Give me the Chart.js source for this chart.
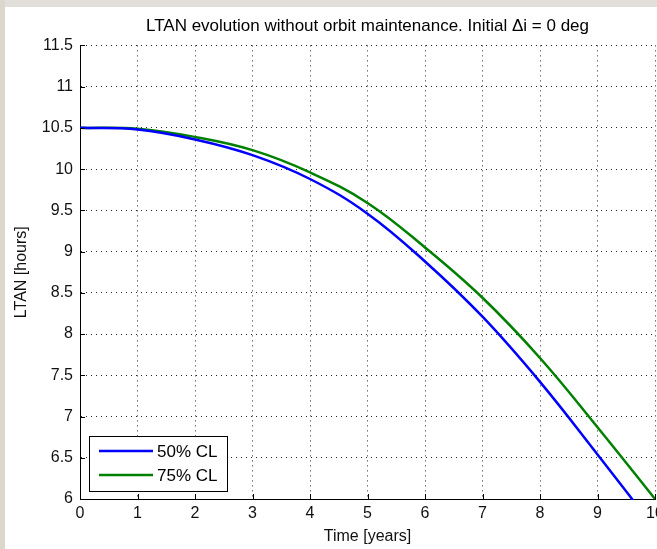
<!DOCTYPE html>
<html>
<head>
<meta charset="utf-8">
<script src="https://cdn.jsdelivr.net/npm/chart.js@4"></script>
<style>
  html, body { margin: 0; padding: 0; background: #fff; overflow: hidden; }
  #wrap { width: 657px; height: 549px; position: relative; }
</style>
</head>
<body>
<div id="wrap"><canvas id="ltanChart" width="657" height="549"></canvas></div>
<script>
// years since start
const years = [0, 1, 2, 3, 4, 5, 6, 7, 8, 9, 10];
// LTAN [hours]
const cl50 = [10.5, 10.48, 10.36, 10.17, 9.88, 9.46, 8.88, 8.21, 7.42, 6.54, 5.64];
const cl75 = [10.5, 10.49, 10.39, 10.23, 9.96, 9.59, 9.05, 8.44, 7.71, 6.87, 6.0];
const seriesNames = ['50% CL', '75% CL'];
const seriesColors = ['#0000ff', '#008000'];

const FONT = "'Liberation Sans', Arial, Helvetica, sans-serif";

function toPoints(xs, ys) {
  return xs.map((x, i) => ({ x: x, y: ys[i] }));
}

// grey window frame of the screenshot
const framePlugin = {
  id: 'frame',
  beforeDraw(chart) {
    const c = chart.ctx;
    c.save();
    c.fillStyle = '#e2dfda';
    c.fillRect(0, 0, chart.width, 7);
    c.fillStyle = '#dcd7cd';
    c.fillRect(0, 0, 5, chart.height);
    c.restore();
  }
};

// matlab style tick marks pointing into the axes
const innerTicks = {
  id: 'innerTicks',
  afterDatasetsDraw(chart) {
    const c = chart.ctx;
    const a = chart.chartArea;
    const xs = chart.scales.x, ys = chart.scales.y;
    c.save();
    c.strokeStyle = '#000';
    c.lineWidth = 1;
    c.beginPath();
    xs.ticks.forEach(t => {
      const px = Math.round(xs.getPixelForValue(t.value)) + 0.5;
      c.moveTo(px, a.bottom);
      c.lineTo(px, a.bottom - 5);
    });
    ys.ticks.forEach(t => {
      const py = Math.round(ys.getPixelForValue(t.value)) + 0.5;
      c.moveTo(a.left, py);
      c.lineTo(a.left + 5, py);
    });
    c.stroke();
    c.restore();
  }
};

// legend box in the lower left corner of the axes
const boxLegend = {
  id: 'boxLegend',
  afterDraw(chart) {
    const c = chart.ctx;
    const a = chart.chartArea;
    const w = 138, h = 55;
    const x0 = a.left + 9, y0 = a.bottom - 8 - h;
    c.save();
    c.fillStyle = '#fff';
    c.fillRect(x0, y0, w, h);
    c.strokeStyle = '#000';
    c.lineWidth = 1;
    c.strokeRect(Math.round(x0) + 0.5, Math.round(y0) + 0.5, w, h);
    c.font = '17px ' + FONT;
    c.textBaseline = 'middle';
    c.textAlign = 'left';
    seriesNames.forEach((name, i) => {
      const yy = y0 + 15 + i * 24;
      c.strokeStyle = seriesColors[i];
      c.lineWidth = 2.5;
      c.beginPath();
      c.moveTo(x0 + 10, yy);
      c.lineTo(x0 + 64, yy);
      c.stroke();
      c.fillStyle = '#000';
      c.fillText(name, x0 + 68, yy + 1);
    });
    c.restore();
  }
};

const ctx = document.getElementById('ltanChart').getContext('2d');

const ltanChart = new Chart(ctx, {
  type: 'line',
  data: {
    datasets: [
      {
        label: seriesNames[0],
        data: toPoints(years, cl50),
        borderColor: seriesColors[0],
        borderWidth: 2.5,
        pointRadius: 0,
        tension: 0.4,
        fill: false,
        clip: 1
      },
      {
        label: seriesNames[1],
        data: toPoints(years, cl75),
        borderColor: seriesColors[1],
        borderWidth: 2.5,
        pointRadius: 0,
        tension: 0.4,
        fill: false,
        clip: 1
      }
    ]
  },
  options: {
    responsive: false,
    animation: false,
    layout: { padding: { left: 0, right: 2, top: 0, bottom: 0 } },
    scales: {
      x: {
        type: 'linear',
        min: 0,
        max: 10,
        ticks: { stepSize: 1, color: '#111', padding: 5, font: { family: FONT, size: 16 } },
        grid: { color: 'rgba(0,0,0,0.85)', lineWidth: 1, drawTicks: false },
        border: { display: true, color: '#000', width: 1, dash: [1, 4] },
        title: { display: true, text: 'Time [years]', color: '#111', padding: { top: 0, bottom: 3 }, font: { family: FONT, size: 16 } },
        afterFit(s) { s.height = 50; s.paddingRight = 0; }
      },
      y: {
        min: 6,
        max: 11.5,
        ticks: {
          stepSize: 0.5,
          color: '#111',
          padding: 7,
          font: { family: FONT, size: 16 },
          callback: v => String(v)
        },
        grid: { color: 'rgba(0,0,0,0.85)', lineWidth: 1, drawTicks: false },
        border: { display: true, color: '#000', width: 1, dash: [1, 4] },
        title: { display: true, text: 'LTAN [hours]', color: '#111', padding: { top: 12, bottom: 0 }, font: { family: FONT, size: 16 } },
        afterFit(s) { s.width = 80; }
      }
    },
    plugins: {
      legend: { display: false },
      tooltip: { enabled: false },
      title: {
        display: true,
        fullSize: false,
        text: 'LTAN evolution without orbit maintenance. Initial \u0394i = 0 deg',
        color: '#000',
        font: { family: FONT, size: 17, weight: 'normal' },
        padding: { top: 16, bottom: 9 }
      }
    }
  },
  plugins: [framePlugin, innerTicks, boxLegend]
});
</script>
</body>
</html>
